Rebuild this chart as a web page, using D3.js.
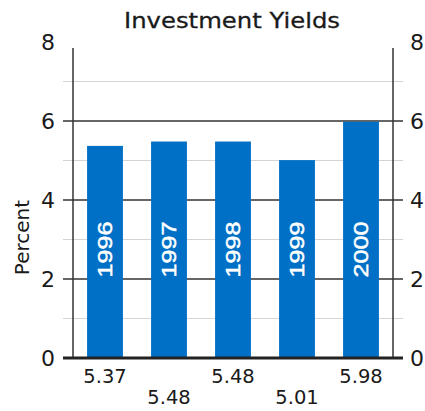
<!DOCTYPE html>
<html>
<head>
<meta charset="utf-8">
<script src="https://cdn.jsdelivr.net/npm/d3@7"></script>
<style>
  body { margin: 0; background: #fff; }
  text { font-family: "DejaVu Sans", Verdana, sans-serif; fill: #1a1a1a; }
</style>
</head>
<body>
<svg id="chart" width="425" height="411"></svg>
<script>
// data
const years = ["1996", "1997", "1998", "1999", "2000"];
const yields = [5.37, 5.48, 5.48, 5.01, 5.98];
const majorTicks = [0, 2, 4, 6, 8];
const minorTicks = [1, 3, 5, 7];

const svg = d3.select("#chart");
const margin = { left: 73, right: 32, top: 42, bottom: 53 };
const width = 425, height = 411;

const x = d3.scaleBand().domain(years).range([margin.left, width - margin.right]).paddingInner(0.44).paddingOuter(0.22);
const y = d3.scaleLinear().domain([0, 8]).range([height - margin.bottom, margin.top]);
const x0 = margin.left, x1 = width - margin.right;

// light minor lines
svg.append("g").selectAll("line").data(minorTicks).enter().append("line")
  .attr("x1", x0 - 10).attr("x2", x1 + 10).attr("y1", d => y(d)).attr("y2", d => y(d))
  .attr("stroke", "#d4d4d4").attr("stroke-width", 1);

// major lines (2,4,6)
svg.append("g").selectAll("line").data(majorTicks.filter(d => d > 0 && d < 8)).enter().append("line")
  .attr("x1", x0 - 10).attr("x2", x1 + 10).attr("y1", d => y(d)).attr("y2", d => y(d))
  .attr("stroke", "#333").attr("stroke-width", 1.5);

// bars
svg.append("g").selectAll("rect").data(yields).enter().append("rect")
  .attr("x", (d, i) => x(years[i])).attr("width", x.bandwidth())
  .attr("y", d => y(d)).attr("height", d => y(0) - y(d))
  .attr("fill", "#0070c6");

// year labels inside bars
svg.append("g").selectAll("text").data(years).enter().append("text")
  .attr("transform", d => `translate(${x(d) + x.bandwidth() / 2 + 7},${y(2.75)}) rotate(-90)`)
  .attr("text-anchor", "middle").attr("textLength", 56).attr("lengthAdjust", "spacingAndGlyphs")
  .style("font-family", "'Liberation Sans', Arial, sans-serif").style("font-size", "20px")
  .style("fill", "#fff").style("stroke", "#fff").style("stroke-width", 0.5)
  .text(d => d);

// side axes
[x0, x1].forEach(xx => {
  svg.append("line").attr("x1", xx).attr("x2", xx).attr("y1", y(7.85)).attr("y2", y(0))
    .attr("stroke", "#333").attr("stroke-width", 1.5);
});
// baseline
svg.append("line").attr("x1", x0 - 10).attr("x2", x1 + 10).attr("y1", y(0)).attr("y2", y(0))
  .attr("stroke", "#222").attr("stroke-width", 3);

// tick labels left and right
svg.append("g").selectAll("text").data(majorTicks).enter().append("text")
  .attr("x", x0 - 18).attr("y", d => y(d)).attr("dy", "0.36em").attr("text-anchor", "end")
  .style("font-size", "22px").text(d => d);
svg.append("g").selectAll("text").data(majorTicks).enter().append("text")
  .attr("x", x1 + 17).attr("y", d => y(d)).attr("dy", "0.36em").attr("text-anchor", "start")
  .style("font-size", "22px").text(d => d);

// value labels, staggered
svg.append("g").selectAll("text").data(yields).enter().append("text")
  .attr("x", (d, i) => x(years[i]) + x.bandwidth() / 2)
  .attr("y", (d, i) => i % 2 === 0 ? y(0) + 25 : y(0) + 46)
  .attr("text-anchor", "middle").style("font-size", "19.5px")
  .text(d => d.toFixed(2));

// title and y label
svg.append("text").attr("x", 232).attr("y", 28).attr("text-anchor", "middle")
  .attr("textLength", 216).attr("lengthAdjust", "spacingAndGlyphs")
  .style("font-size", "22px").style("stroke", "#1a1a1a").style("stroke-width", 0.3)
  .text("Investment Yields");
svg.append("text").attr("transform", `translate(29,${y(3.05)}) rotate(-90)`).attr("text-anchor", "middle")
  .style("font-size", "20px").text("Percent");
</script>
</body>
</html>
